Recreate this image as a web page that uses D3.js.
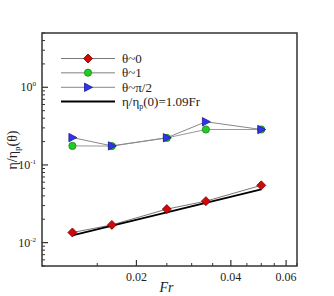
<!DOCTYPE html>
<html>
<head>
<meta charset="utf-8">
<script src="https://d3js.org/d3.v7.min.js"></script>
<style>
body { margin: 0; background: #fff; }
svg { display: block; }
svg text { font-family: "Liberation Serif", "DejaVu Serif", "Times New Roman", serif; }
</style>
</head>
<body>
<script>
// values
var fr = [0.0125, 0.0167, 0.025, 0.0333, 0.05];
var theta0 = [0.0135, 0.0169, 0.027, 0.0342, 0.0546];
var theta1 = [0.176, 0.175, 0.223, 0.286, 0.286];
var thetaHalfPi = [0.225, 0.176, 0.224, 0.36, 0.286];
var fitFr = [0.0125, 0.05];
var fitVals = [0.0124, 0.0485];
var xTicks = [0.02, 0.04, 0.06];
var yTicks = [1, 0.1, 0.01];
var yTickExp = ["0", "-1", "-2"];

var W = 334, H = 296;
var pLeft = 42, pRight = 297, pTop = 33, pBottom = 266;

var svg = d3.select("body").append("svg").attr("width", W).attr("height", H);

var x = d3.scaleLog().domain([0.01, 0.065]).range([pLeft, pRight]);
var y = d3.scaleLog().domain([0.005, 5]).range([pBottom, pTop]);

// minor ticks
var xMinor = d3.range(0.015, 0.0651, 0.005).filter(function(v){
  return xTicks.every(function(t){ return Math.abs(t - v) > 1e-6; });
});
var yMinor = [];
[0.001, 0.01, 0.1, 1].forEach(function(d){
  for (var k = 2; k <= 9; k++) {
    var v = d * k;
    if (v >= 0.005 && v <= 5) yMinor.push(v);
  }
});

var axisCol = "#333";
var g = svg.append("g");

g.selectAll(".xmin").data(xMinor).enter().append("line")
  .attr("x1", function(d){ return x(d); }).attr("x2", function(d){ return x(d); })
  .attr("y1", pBottom).attr("y2", pBottom - 3).attr("stroke", axisCol);
g.selectAll(".xmaj").data(xTicks).enter().append("line")
  .attr("x1", function(d){ return x(d); }).attr("x2", function(d){ return x(d); })
  .attr("y1", pBottom).attr("y2", pBottom - 6).attr("stroke", axisCol).attr("stroke-width", 1.2);
g.selectAll(".ymin").data(yMinor).enter().append("line")
  .attr("y1", function(d){ return y(d); }).attr("y2", function(d){ return y(d); })
  .attr("x1", pLeft).attr("x2", pLeft + 3).attr("stroke", axisCol);
g.selectAll(".ymaj").data(yTicks).enter().append("line")
  .attr("y1", function(d){ return y(d); }).attr("y2", function(d){ return y(d); })
  .attr("x1", pLeft).attr("x2", pLeft + 6).attr("stroke", axisCol).attr("stroke-width", 1.2);

// x tick labels
g.selectAll(".xl").data(xTicks).enter().append("text")
  .attr("x", function(d){ return x(d); }).attr("y", 281)
  .attr("text-anchor", "middle").attr("font-size", 12).attr("fill", "#222")
  .text(function(d){ return d.toFixed(2); });

// y tick labels
yTicks.forEach(function(t, i){
  var tx = g.append("text").attr("x", 36).attr("y", y(t) + 4)
    .attr("text-anchor", "end").attr("font-size", 12).attr("fill", "#222");
  tx.append("tspan").text("10");
  tx.append("tspan").attr("dy", -5).attr("font-size", 7).text(yTickExp[i]);
});

// axis titles
svg.append("text").attr("x", (pLeft + pRight) / 2 - 3).attr("y", 292)
  .attr("text-anchor", "middle").attr("font-size", 14).attr("font-style", "italic")
  .attr("fill", "#222").text("Fr");
var yl = svg.append("text").attr("transform", "translate(17,150) rotate(-90)")
  .attr("text-anchor", "middle").attr("font-size", 14).attr("fill", "#222");
yl.append("tspan").text("η/η");
yl.append("tspan").attr("dy", 3).attr("font-size", 9).text("p");
yl.append("tspan").attr("dy", -3).text("(θ)");

// data lines
var line = d3.line().x(function(d){ return x(d[0]); }).y(function(d){ return y(d[1]); });
function pairs(xs, ys){ return xs.map(function(v, i){ return [v, ys[i]]; }); }

svg.append("path").datum(pairs(fr, theta0)).attr("d", line)
  .attr("fill", "none").attr("stroke", "#777").attr("stroke-width", 1);
svg.append("path").datum(pairs(fr, theta1)).attr("d", line)
  .attr("fill", "none").attr("stroke", "#999").attr("stroke-width", 1);
svg.append("path").datum(pairs(fr, thetaHalfPi)).attr("d", line)
  .attr("fill", "none").attr("stroke", "#888").attr("stroke-width", 1);
svg.append("path").datum(pairs(fitFr, fitVals)).attr("d", line)
  .attr("fill", "none").attr("stroke", "#000").attr("stroke-width", 2);

var diamond = "M0,-4.5L4.5,0L0,4.5L-4.5,0Z";
var tri = "M-3.5,-4.2L4.5,0L-3.5,4.2Z";

function markers(ys, kind){
  var sel = svg.append("g").selectAll("g").data(pairs(fr, ys)).enter().append("g")
    .attr("transform", function(d){ return "translate(" + x(d[0]) + "," + y(d[1]) + ")"; });
  drawMarker(sel, kind);
}
function drawMarker(sel, kind){
  if (kind === "d") sel.append("path").attr("d", diamond).attr("fill", "#cc0a0a").attr("stroke", "#7a0000").attr("stroke-width", 0.8);
  if (kind === "c") sel.append("circle").attr("r", 3.6).attr("fill", "#22cc22").attr("stroke", "#118811").attr("stroke-width", 0.8);
  if (kind === "t") sel.append("path").attr("d", tri).attr("fill", "#3333ee").attr("stroke", "#1a1a99").attr("stroke-width", 0.8);
}
markers(theta0, "d");
markers(theta1, "c");
markers(thetaHalfPi, "t");

// legend
var legRows = [
  { label: "θ~0", col: "#777", w: 1, kind: "d" },
  { label: "θ~1", col: "#aaa", w: 1.4, kind: "c" },
  { label: "θ~π/2", col: "#888", w: 1, kind: "t" },
  { label: "fit", col: "#000", w: 2, kind: null }
];
var legY = [58.5, 72.7, 87.3, 101.5];
legRows.forEach(function(r, i){
  var ly = legY[i];
  svg.append("line").attr("x1", 61).attr("x2", 115).attr("y1", ly).attr("y2", ly)
    .attr("stroke", r.col).attr("stroke-width", r.w);
  if (r.kind) drawMarker(svg.append("g").attr("transform", "translate(88," + ly + ")"), r.kind);
  var t = svg.append("text").attr("x", 122).attr("y", ly + 4.5).attr("font-size", 13).attr("fill", "#222");
  if (r.kind) t.text(r.label);
  else {
    t.append("tspan").text("η/η");
    t.append("tspan").attr("dy", 3).attr("font-size", 8).text("p");
    t.append("tspan").attr("dy", -3).text("(0)=1.09Fr");
  }
});

// frame
svg.append("rect").attr("x", pLeft).attr("y", pTop).attr("width", pRight - pLeft).attr("height", pBottom - pTop)
  .attr("fill", "none").attr("stroke", axisCol).attr("stroke-width", 1.5);
</script>
</body>
</html>
